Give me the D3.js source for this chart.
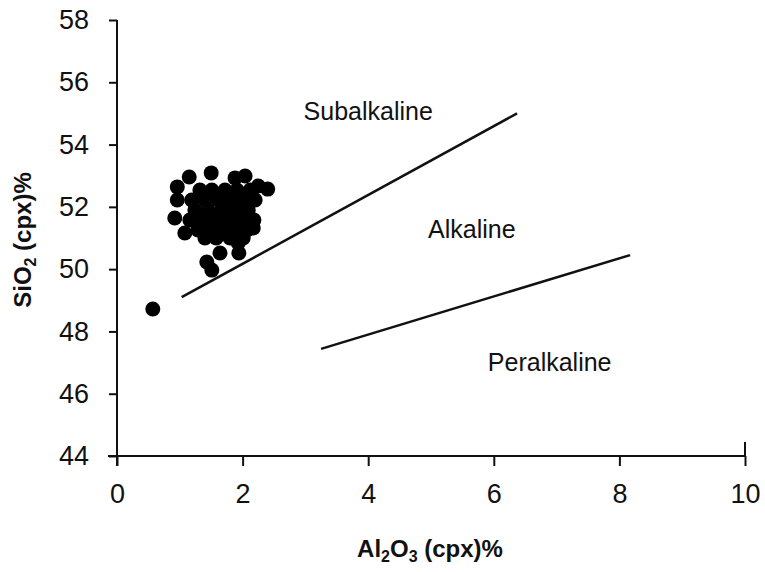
<!DOCTYPE html>
<html>
<head>
<meta charset="utf-8">
<script src="https://cdn.jsdelivr.net/npm/d3@7"></script>
<style>
  html, body { margin: 0; padding: 0; background: #fff; }
  svg { display: block; font-family: "Liberation Sans", Arial, sans-serif; }
</style>
</head>
<body>
<svg id="chart" width="765" height="572"></svg>
<script>
// ---- data ----
const xTicks = [0, 2, 4, 6, 8, 10];
const yTicks = [44, 46, 48, 50, 52, 54, 56, 58];

// sample Al2O3 (x) and SiO2 (y) values
const al2o3 = [
  0.57,
  1.15, 1.50, 0.96, 0.96, 0.92, 1.88, 2.04, 2.25, 2.40,
  1.08, 2.17, 1.64, 1.94, 1.43, 1.51, 1.93,
  1.32, 1.51, 1.72, 1.91, 2.12,
  1.19, 1.40, 1.61, 1.80, 2.01, 2.20,
  1.24, 1.45, 1.67, 1.88, 2.09,
  1.16, 1.37, 1.56, 1.77, 1.97, 2.18,
  1.29, 1.48, 1.67, 1.88, 2.07,
  1.40, 1.58, 1.80, 2.01
];
const sio2 = [
  48.72,
  52.96, 53.09, 52.64, 52.22, 51.64, 52.93, 52.99, 52.67, 52.57,
  51.16, 51.32, 50.52, 50.52, 50.23, 49.97, 50.84,
  52.54, 52.54, 52.54, 52.54, 52.54,
  52.22, 52.22, 52.22, 52.22, 52.22, 52.22,
  51.90, 51.90, 51.90, 51.90, 51.90,
  51.58, 51.58, 51.58, 51.58, 51.58, 51.58,
  51.26, 51.26, 51.26, 51.26, 51.26,
  51.00, 51.00, 51.00, 51.00
];

// boundary lines
const line1X = [1.03, 6.37];
const line1Y = [49.1, 55.0];
const line2X = [3.25, 8.17];
const line2Y = [47.44, 50.45];

// field labels
const fieldNames = ["Subalkaline", "Alkaline", "Peralkaline"];
const fieldX = [4.0, 5.65, 6.89];
const fieldY = [55.08, 51.29, 47.02];

// ---- drawing ----
const svg = d3.select("#chart");
const ink = "#111";

const x = d3.scaleLinear().domain([0, 10]).range([117, 745]);
const y = d3.scaleLinear().domain([44, 58]).range([456, 20]);

// y axis
const yAxis = svg.append("g")
  .attr("transform", `translate(${x(0)},0)`)
  .call(d3.axisLeft(y).tickValues(yTicks).tickSize(8).tickPadding(20).tickSizeOuter(0));
yAxis.select(".domain").remove();
yAxis.selectAll("line").attr("stroke", ink).attr("stroke-width", 2);
yAxis.selectAll("text").attr("fill", ink).style("font-size", "27px");

// x axis
const xAxis = svg.append("g")
  .attr("transform", `translate(0,${y(44)})`)
  .call(d3.axisBottom(x).tickValues(xTicks).tickSize(10).tickPadding(18).tickSizeOuter(0));
xAxis.select(".domain").remove();
xAxis.selectAll("line").attr("stroke", ink).attr("stroke-width", 2);
xAxis.selectAll("text").attr("fill", ink).style("font-size", "27px");

// axis lines
svg.append("line")
  .attr("x1", x(0)).attr("x2", x(0))
  .attr("y1", y(58)).attr("y2", y(44) + 10)
  .attr("stroke", ink).attr("stroke-width", 2);
svg.append("line")
  .attr("x1", x(0) - 9).attr("x2", x(10))
  .attr("y1", y(44)).attr("y2", y(44))
  .attr("stroke", ink).attr("stroke-width", 2);
// small upward tick at right end
svg.append("line")
  .attr("x1", x(10)).attr("x2", x(10))
  .attr("y1", y(44) - 14).attr("y2", y(44))
  .attr("stroke", ink).attr("stroke-width", 2);

// boundary lines
const lineGen = d3.line().x(d => x(d[0])).y(d => y(d[1]));
[[line1X, line1Y], [line2X, line2Y]].forEach(([lx, ly]) => {
  svg.append("path")
    .attr("d", lineGen(lx.map((v, i) => [v, ly[i]])))
    .attr("fill", "none").attr("stroke", ink).attr("stroke-width", 2.5);
});

// points
svg.append("g").selectAll("circle")
  .data(al2o3.map((v, i) => [v, sio2[i]]))
  .join("circle")
  .attr("cx", d => x(d[0]))
  .attr("cy", d => y(d[1]))
  .attr("r", 7.5)
  .attr("fill", "#000");

// field labels
svg.append("g").selectAll("text")
  .data(fieldNames)
  .join("text")
  .attr("x", (d, i) => x(fieldX[i]))
  .attr("y", (d, i) => y(fieldY[i]))
  .attr("text-anchor", "middle")
  .attr("dominant-baseline", "central")
  .attr("fill", ink)
  .style("font-size", "25px")
  .text(d => d);

// axis titles
const xt = svg.append("text")
  .attr("x", 430).attr("y", 557)
  .attr("text-anchor", "middle")
  .attr("fill", ink)
  .style("font-size", "24px").style("font-weight", "bold");
xt.append("tspan").text("Al");
xt.append("tspan").text("2").attr("dy", 5).style("font-size", "16px");
xt.append("tspan").text("O").attr("dy", -5);
xt.append("tspan").text("3").attr("dy", 5).style("font-size", "16px");
xt.append("tspan").text(" (cpx)%").attr("dy", -5);

const yt = svg.append("text")
  .attr("transform", "translate(31,240) rotate(-90)")
  .attr("text-anchor", "middle")
  .attr("fill", ink)
  .style("font-size", "24px").style("font-weight", "bold");
yt.append("tspan").text("SiO");
yt.append("tspan").text("2").attr("dy", 5).style("font-size", "16px");
yt.append("tspan").text(" (cpx)%").attr("dy", -5);
</script>
</body>
</html>
